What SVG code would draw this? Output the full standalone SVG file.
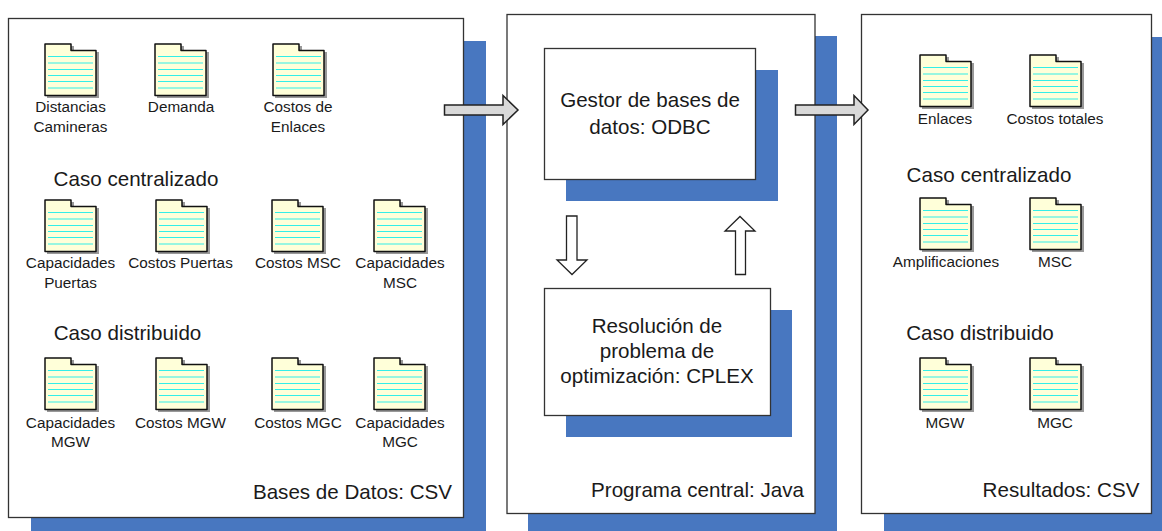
<svg xmlns="http://www.w3.org/2000/svg" width="1162" height="531" viewBox="0 0 1162 531">
<style>
text{font-family:"Liberation Sans",Arial,sans-serif;fill:#1a1a1a;text-anchor:middle}
.s{font-size:15.300px}.m{font-size:20.600px}.sh{fill:#4877c0}.p{fill:#fff;stroke:#333;stroke-width:1.3}
.fb{fill:#ffffd9;stroke:#111;stroke-width:1.5;stroke-linejoin:round}
.fl{stroke:#33eee8;stroke-width:1.2}
.ga{fill:#d9d9d9;stroke:#222;stroke-width:1.5}.wa{fill:#fff;stroke:#222;stroke-width:1.3}
</style>
<defs>
<g id="folder">
<path d="M2 2H29V8H54V54H2Z" fill="#999"/>
<path class="fb" d="M0 0H26V6.500H51V51.500H0Z"/>
<path class="fl" d="M3 12.500H48M3 19H48M3 25.500H48M3 31.500H48M3 37.500H48M3 44H48"/>
</g>
</defs>
<g id="panel-bd"><rect class="sh" x="31" y="41" width="455" height="490"/><rect class="p" x="8.500" y="18.500" width="455" height="499"/><text x="352.500" y="499" class="m">Bases de Datos: CSV</text></g>
<g id="panel-pc"><rect class="sh" x="528" y="36" width="309" height="495"/><rect class="p" x="507" y="14.500" width="308" height="499"/><text x="697.500" y="497" class="m">Programa central: Java</text></g>
<g id="panel-res"><rect class="sh" x="884" y="37" width="278" height="494"/><rect class="p" x="861.500" y="14.500" width="290" height="499"/><text x="1061" y="497" class="m">Resultados: CSV</text></g>
<g id="odbc"><rect class="sh" x="566" y="70" width="212" height="131"/><rect class="p" x="544.500" y="48.500" width="211" height="131"/><text x="650" y="107" class="m">Gestor de bases de</text><text x="650" y="134" class="m">datos: ODBC</text></g>
<g id="cplex"><rect class="sh" x="566" y="310" width="226" height="127"/><rect class="p" x="544.500" y="288.500" width="226" height="127"/><text x="657" y="333" class="m">Resolución de</text><text x="657" y="358" class="m">problema de</text><text x="657" y="383" class="m">optimización: CPLEX</text></g>
<g id="heading-texts"><text x="136" y="186" class="m">Caso centralizado</text><text x="127.500" y="340" class="m">Caso distribuido</text><text x="989" y="182" class="m">Caso centralizado</text><text x="980" y="340" class="m">Caso distribuido</text></g>
<g id="f1"><use href="#folder" x="45" y="44"/><text x="70.500" y="112" class="s">Distancias</text><text x="70.500" y="132" class="s">Camineras</text></g>
<g id="f2"><use href="#folder" x="155" y="44"/><text x="181" y="112" class="s">Demanda</text></g>
<g id="f3"><use href="#folder" x="273" y="44"/><text x="298" y="112" class="s">Costos de</text><text x="298" y="132" class="s">Enlaces</text></g>
<g id="f4"><use href="#folder" x="45" y="200"/><text x="70.500" y="268" class="s">Capacidades</text><text x="70.500" y="288" class="s">Puertas</text></g>
<g id="f5"><use href="#folder" x="156" y="200"/><text x="180.500" y="268" class="s">Costos Puertas</text></g>
<g id="f6"><use href="#folder" x="272" y="200"/><text x="298" y="268" class="s">Costos MSC</text></g>
<g id="f7"><use href="#folder" x="374" y="200"/><text x="400" y="268" class="s">Capacidades</text><text x="400" y="288" class="s">MSC</text></g>
<g id="f8"><use href="#folder" x="45" y="358"/><text x="70.500" y="428" class="s">Capacidades</text><text x="70.500" y="447" class="s">MGW</text></g>
<g id="f9"><use href="#folder" x="156" y="358"/><text x="180.500" y="428" class="s">Costos MGW</text></g>
<g id="f10"><use href="#folder" x="272" y="358"/><text x="298" y="428" class="s">Costos MGC</text></g>
<g id="f11"><use href="#folder" x="374" y="358"/><text x="400" y="428" class="s">Capacidades</text><text x="400" y="447" class="s">MGC</text></g>
<g id="r1"><use href="#folder" x="920" y="55"/><text x="945" y="124" class="s">Enlaces</text></g>
<g id="r2"><use href="#folder" x="1030" y="55"/><text x="1055" y="124" class="s">Costos totales</text></g>
<g id="r3"><use href="#folder" x="920" y="198"/><text x="946" y="267" class="s">Amplificaciones</text></g>
<g id="r4"><use href="#folder" x="1030" y="198"/><text x="1055" y="267" class="s">MSC</text></g>
<g id="r5"><use href="#folder" x="920" y="358"/><text x="945" y="428" class="s">MGW</text></g>
<g id="r6"><use href="#folder" x="1030" y="358"/><text x="1055" y="428" class="s">MGC</text></g>
<g id="connectors">
<path class="ga" d="M444.500 105H503V95.500L518 110L503 124.500V115H444.500Z"/>
<path class="ga" d="M795.500 105H854V95.500L868 110L854 124.500V115H795.500Z"/>
<path class="wa" d="M566.500 216H577V260H587L572 274.500L557 260H566.500Z"/>
<path class="wa" d="M735.500 274.500H745.500V231H755L740 216.500L725 231H735.500Z"/>
</g>
</svg>
